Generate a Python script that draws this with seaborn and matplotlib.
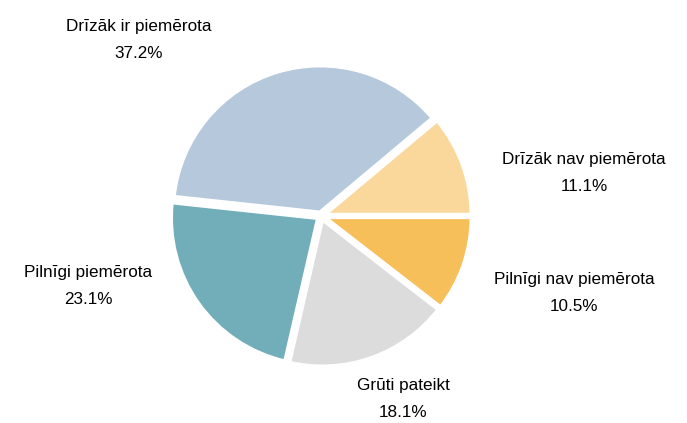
import matplotlib
matplotlib.use("Agg")
import matplotlib.pyplot as plt
import seaborn as sns

# Dati
kategorijas = ["Drīzāk nav piemērota", "Drīzāk ir piemērota", "Pilnīgi piemērota",
               "Grūti pateikt", "Pilnīgi nav piemērota"]
procenti = [11.1, 37.2, 23.1, 18.1, 10.5]
krasas = ["#fad89c", "#b5c8dc", "#72aeb9", "#dcdcdc", "#f6bf5a"]

# Etiķešu vietas (datu koordinātās)
etiketu_xy = [(1.789, 0.293), (-1.238, 1.197), (-1.585, -0.476),
              (0.558, -1.245), (1.721, -0.524)]

sns.set_theme(style="white")
plt.rcParams["font.family"] = ["Liberation Sans", "DejaVu Sans"]

fig = plt.figure(figsize=(6.87, 4.23), dpi=100)
ax = fig.add_axes([0, 0, 1, 1])

ax.pie(procenti, colors=sns.color_palette(krasas), startangle=0, counterclock=True,
       explode=[0.025] * len(procenti),
       wedgeprops=dict(edgecolor="white", linewidth=2.8))

for nosaukums, vertiba, (x, y) in zip(kategorijas, procenti, etiketu_xy):
    ax.text(x, y, f"{nosaukums}\n{vertiba:.1f}%", ha="center", va="center",
            fontsize=12.3, color="black", linespacing=2.0)

ax.set_xlim(-2.184, 2.490)
ax.set_ylim(-1.408, 1.469)
ax.set_aspect("equal")
ax.axis("off")

fig.savefig("out.png", dpi=100, facecolor="white")
